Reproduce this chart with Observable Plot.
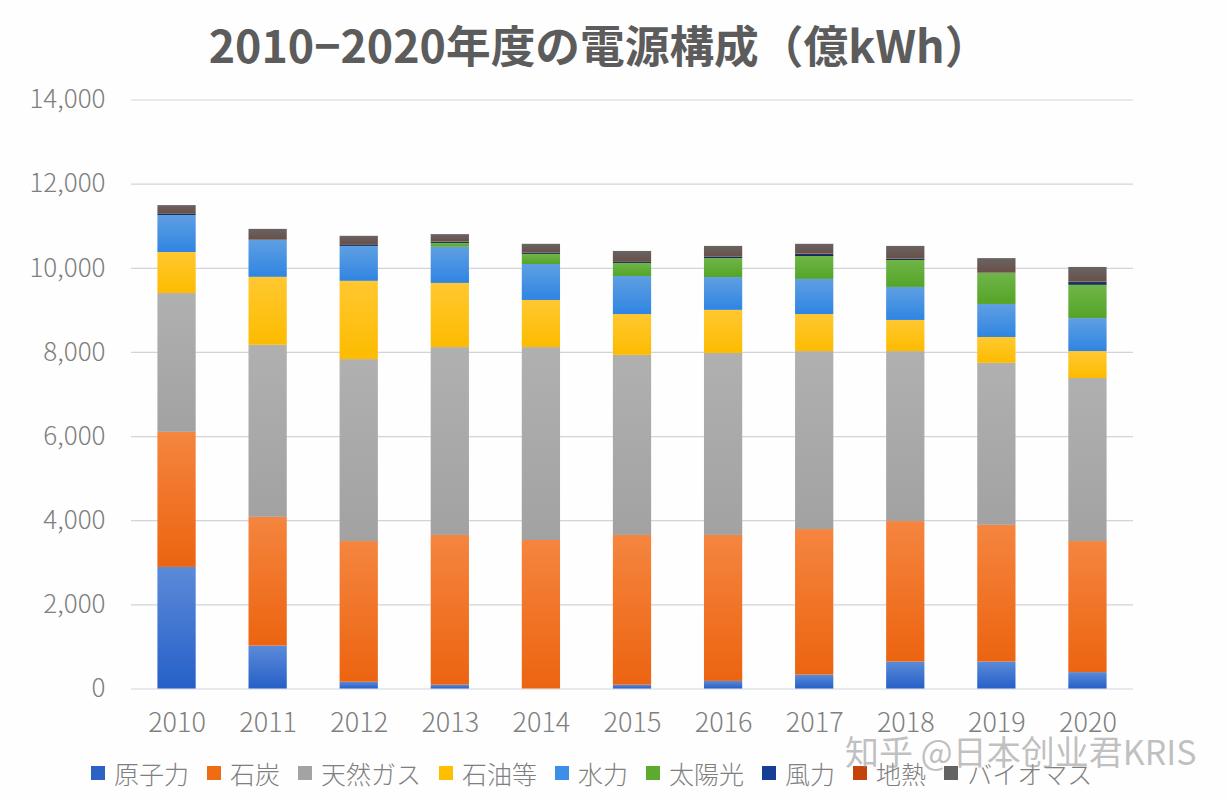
<!DOCTYPE html>
<html lang="ja">
<head>
<meta charset="utf-8">
<script src="https://cdn.jsdelivr.net/npm/d3@7"></script>
<script src="https://cdn.jsdelivr.net/npm/@observablehq/plot@0.6"></script>
<style>
html,body{margin:0;padding:0;background:#fefefe;width:1228px;height:802px;overflow:hidden;font-family:"Noto Sans CJK JP","Noto Sans",sans-serif}
#wrap{position:relative;width:1228px;height:802px}
#title{position:absolute;left:0;top:14px;width:1198px;text-align:center;font-size:44.7px;line-height:60px;font-weight:700;color:#5c5c5c;white-space:nowrap}
#chart{position:absolute;left:0;top:75px}
#chart svg{background:transparent;display:block}
#legend{position:absolute;left:91px;top:756px;display:flex;align-items:center;height:34px;font-size:25px;font-weight:300;color:#7f7f7f;white-space:nowrap}
#legend .k{display:flex;align-items:center;margin-right:18px}
#legend i{display:block;width:14px;height:14px;margin-right:9px}
#mark{position:absolute;left:845px;top:734px;font-size:34px;line-height:34px;color:rgba(150,150,150,.6);white-space:nowrap;font-weight:400}
</style>
</head>
<body>
<div id="wrap">
<div id="title">2010−2020年度の電源構成（億kWh）</div>
<div id="chart"></div>
<div id="legend"></div>
<div id="mark">知乎 @日本创业君KRIS</div>
</div>
<script>
const years = ["2010","2011","2012","2013","2014","2015","2016","2017","2018","2019","2020"];
const seriesNames = ["原子力","石炭","天然ガス","石油等","水力","太陽光","風力","地熱","バイオマス"];
const nuclear = [2890,1020,160,90,0,90,180,330,640,640,390];
const coal    = [3210,3060,3345,3560,3530,3560,3470,3460,3340,3250,3115];
const gas     = [3300,4090,4325,4465,4585,4280,4325,4230,4040,3850,3875];
const oil     = [975,1615,1860,1525,1120,970,1025,880,740,615,640];
const hydro   = [880,880,830,860,855,905,780,835,785,785,785];
const solar   = [0,0,0,90,240,310,450,545,640,740,790];
const wind    = [35,5,35,25,30,35,35,50,30,5,70];
const geo     = [10,10,10,10,10,10,10,10,10,10,10];
const biomass = [190,245,195,175,200,240,245,230,295,335,345];
const seriesValues = [nuclear,coal,gas,oil,hydro,solar,wind,geo,biomass];
const yTicks = [0,2000,4000,6000,8000,10000,12000,14000];
const legendColors = ["#2b62c4","#ee6c14","#a3a3a3","#fdbf00","#3d8ee6","#5cab2e","#143f94","#c4430c","#636363"];
const gradTop = ["#5b8ad8","#f5853f","#b0b0b0","#ffc830","#5f9fe2","#6fb548","#1c3a70","#5a3020","#686464"];
const gradBot = ["#2660c8","#ec6410","#a2a2a2","#fdbb00","#2f85e2","#55a428","#10284f","#4a2414","#6a5048"];

const rows = seriesNames.flatMap((name,i)=>years.map((year,j)=>({year,name,value:seriesValues[i][j]})));

const defs = () => {
  const ns = "http://www.w3.org/2000/svg";
  const d = document.createElementNS(ns,"defs");
  seriesNames.forEach((_,i)=>{
    const g = document.createElementNS(ns,"linearGradient");
    g.setAttribute("id","grad"+i);
    g.setAttribute("x1","0");g.setAttribute("x2","0");g.setAttribute("y1","0");g.setAttribute("y2","1");
    [[0,gradTop[i]],[1,gradBot[i]]].forEach(([o,c])=>{
      const s = document.createElementNS(ns,"stop");
      s.setAttribute("offset",o);s.setAttribute("stop-color",c);g.appendChild(s);
    });
    d.appendChild(g);
  });
  return d;
};

const plot = Plot.plot({
  width:1228,height:675,
  marginLeft:131,marginRight:95,marginTop:24.5,marginBottom:61.5,
  style:{fontFamily:'"Noto Sans CJK JP","Noto Sans",sans-serif',background:"transparent"},
  x:{domain:years,paddingInner:0.58,paddingOuter:0.29,round:false,label:null},
  y:{domain:[0,14000],label:null},
  color:{type:"ordinal",domain:seriesNames,range:seriesNames.map((_,i)=>`url(#grad${i})`)},
  marks:[
    defs,
    Plot.ruleY(yTicks,{stroke:"#d2d3dc",strokeWidth:1.2}),
    Plot.barY(rows,{x:"year",y:"value",fill:"name",z:"name",order:seriesNames,inset:0,
      style:{filter:"drop-shadow(0 0 2px rgba(90,90,90,.4))"}}),
    Plot.axisY({ticks:yTicks,tickSize:0,tickPadding:26,tickFormat:d3.format(","),fontSize:26,fontWeight:300,color:"#7f7f7f",label:null}),
    Plot.axisX({tickSize:0,tickPadding:24,fontSize:27,fontWeight:300,color:"#7f7f7f",label:null})
  ]
});
document.getElementById("chart").appendChild(plot);

const lg = document.getElementById("legend");
seriesNames.forEach((n,i)=>{
  const k = document.createElement("div");k.className="k";
  const sw = document.createElement("i");sw.style.background=legendColors[i];
  const t = document.createElement("span");t.textContent=n;
  k.append(sw,t);lg.appendChild(k);
});
</script>
</body>
</html>
